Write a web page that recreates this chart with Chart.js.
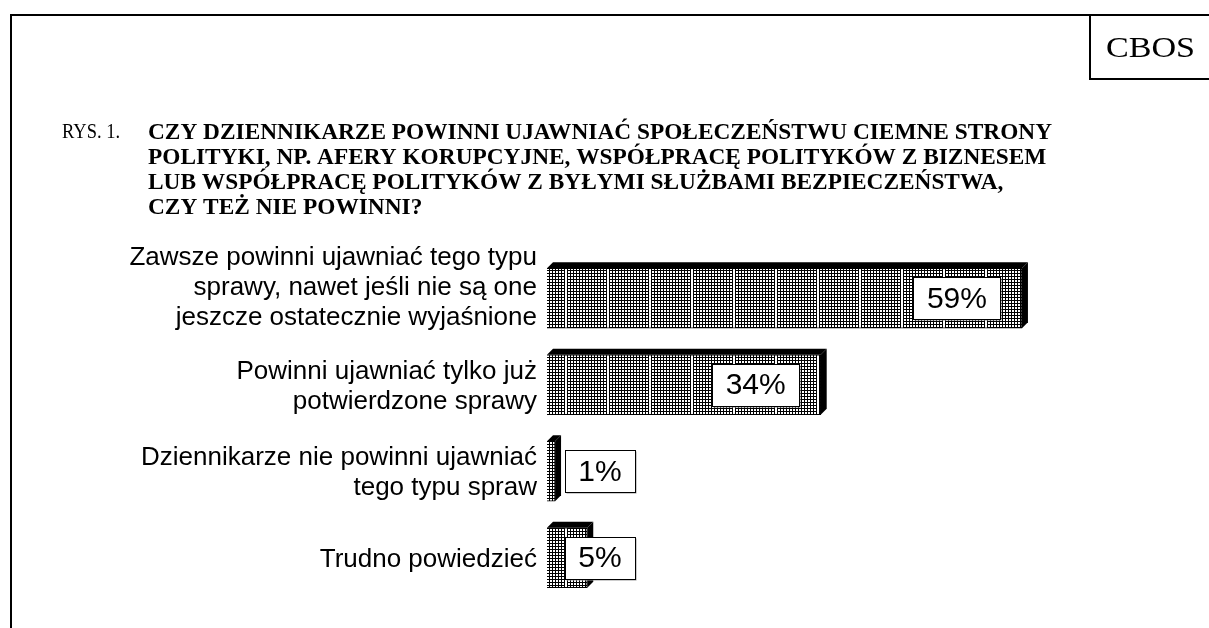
<!DOCTYPE html>
<html>
<head>
<meta charset="utf-8">
<script src="https://cdn.jsdelivr.net/npm/chart.js@4.4.1/dist/chart.umd.min.js"></script>
<style>
html,body{margin:0;padding:0;background:#fff;}
#wrap{position:relative;width:1209px;height:628px;}
canvas{display:block;}
</style>
</head>
<body>
<div id="wrap"><canvas id="c" width="1209" height="628"></canvas></div>
<script>
const categories = [
  ["Zawsze powinni ujawniać tego typu", "sprawy, nawet jeśli nie są one", "jeszcze ostatecznie wyjaśnione"],
  ["Powinni ujawniać tylko już", "potwierdzone sprawy"],
  ["Dziennikarze nie powinni ujawniać", "tego typu spraw"],
  ["Trudno powiedzieć"]
];
const values = [59, 34, 1, 5];
const valueLabels = ["59%", "34%", "1%", "5%"];
const figureLabel = "RYS. 1.";
const titleLines = [
  "CZY DZIENNIKARZE POWINNI UJAWNIAĆ SPOŁECZEŃSTWU CIEMNE STRONY",
  "POLITYKI, NP. AFERY KORUPCYJNE, WSPÓŁPRACĘ POLITYKÓW Z BIZNESEM",
  "LUB WSPÓŁPRACĘ POLITYKÓW Z BYŁYMI SŁUŻBAMI BEZPIECZEŃSTWA,",
  "CZY TEŻ NIE POWINNI?"
];
const sourceLabel = "CBOS";

// pattern: fine black grid with periodic white vertical stripes
function makePattern(){
  const p = document.createElement('canvas');
  p.width = 42; p.height = 3;
  const g = p.getContext('2d');
  g.fillStyle = '#fff'; g.fillRect(0,0,42,3);
  g.fillStyle = '#000';
  g.fillRect(0,0,42,1);
  for(let x=0;x<42;x+=3){ g.fillRect(x,0,1,3); }
  g.fillStyle = '#fff';
  g.fillRect(19,0,2,3);
  return g.createPattern(p,'repeat');
}
const pattern = makePattern();

const DEPTH = 6;

function fitText(ctx, t, x, y, targetW, refW){
  ctx.save();
  ctx.translate(x,y);
  ctx.scale(targetW/refW,1);
  ctx.fillText(t,0,0);
  ctx.restore();
}

const framePlugin = {
  id:'frame',
  beforeDraw(chart){
    const ctx = chart.ctx;
    ctx.save();
    ctx.fillStyle='#fff'; ctx.fillRect(0,0,chart.width,chart.height);
    ctx.strokeStyle='#000'; ctx.lineWidth=2;
    ctx.beginPath();
    ctx.moveTo(11,628); ctx.lineTo(11,15); ctx.lineTo(1209,15);
    ctx.stroke();
    ctx.beginPath();
    ctx.moveTo(1090,15); ctx.lineTo(1090,79); ctx.lineTo(1209,79);
    ctx.stroke();
    // CBOS
    ctx.fillStyle='#000';
    ctx.textBaseline='alphabetic';
    ctx.textAlign='center';
    ctx.font='30px "Liberation Serif"';
    const cw = ctx.measureText(sourceLabel).width;
    fitText(ctx, sourceLabel, 1150.5, 57, 89, cw);
    // Title
    ctx.textAlign='left';
    ctx.font='21px "Liberation Serif"';
    const fw = ctx.measureText(figureLabel).width;
    fitText(ctx, figureLabel, 62, 138, 58, fw);
    ctx.font='bold 23px "Liberation Serif"';
    const w0 = ctx.measureText(titleLines[0]).width;
    titleLines.forEach((t,i)=>{
      fitText(ctx, t, 148, 139+i*25, 904, w0);
    });
    ctx.restore();
  }
};

const barPlugin = {
  id:'bars3d',
  afterDatasetsDraw(chart){
    const ctx = chart.ctx;
    const meta = chart.getDatasetMeta(0);
    ctx.save();
    meta.data.forEach((bar,i)=>{
      const p = bar.getProps(['x','y','base','height'],true);
      const top = p.y - p.height/2, bottom = p.y + p.height/2;
      const L = p.base, R = p.x;
      ctx.fillStyle='#000';
      ctx.beginPath();
      ctx.moveTo(L,top); ctx.lineTo(L+DEPTH,top-DEPTH); ctx.lineTo(R+DEPTH,top-DEPTH); ctx.lineTo(R,top); ctx.closePath();
      ctx.fill();
      ctx.beginPath();
      ctx.moveTo(R,top); ctx.lineTo(R+DEPTH,top-DEPTH); ctx.lineTo(R+DEPTH,bottom-DEPTH); ctx.lineTo(R,bottom); ctx.closePath();
      ctx.fill();
      // category labels
      ctx.font='26px "Liberation Sans"';
      ctx.textAlign='right'; ctx.textBaseline='middle';
      const lines = chart.data.labels[i];
      const n = lines.length;
      const lh = 30;
      const y0 = p.y - (n-1)*lh/2 - Math.max(0,n-2)*12 + 2;
      lines.forEach((t,k)=>ctx.fillText(t,537,y0+k*lh));
      // value label box
      ctx.font='30px "Liberation Sans"';
      ctx.textAlign='center';
      const txt = valueLabels[i];
      const tw = ctx.measureText(txt).width;
      const bw = Math.round(tw + 27), bh = 42;
      const cx = Math.max(R - 65, 600);
      const bx = Math.round(cx - bw/2)+0.5, by = Math.round(p.y - bh/2)+0.5;
      ctx.fillStyle='#999';
      ctx.fillRect(bx+1,by+1,bw,bh);
      ctx.fillStyle='#fff';
      ctx.fillRect(bx,by,bw,bh);
      ctx.strokeStyle='#000'; ctx.lineWidth=1;
      ctx.strokeRect(bx,by,bw,bh);
      ctx.fillStyle='#000';
      ctx.fillText(txt,cx,p.y+1);
    });
    ctx.restore();
  }
};

new Chart(document.getElementById('c'),{
  type:'bar',
  data:{
    labels:categories,
    datasets:[{
      data:values,
      backgroundColor:pattern,
      borderColor:'#000',
      borderWidth:1,
      barThickness:60
    }]
  },
  options:{
    indexAxis:'y',
    responsive:false,
    animation:false,
    events:[],
    layout:{padding:{left:547,right:18,top:255,bottom:27}},
    plugins:{legend:{display:false},tooltip:{enabled:false}},
    scales:{
      x:{display:false,min:0,max:80},
      y:{display:false}
    }
  },
  plugins:[framePlugin,barPlugin]
});
</script>
</body>
</html>
